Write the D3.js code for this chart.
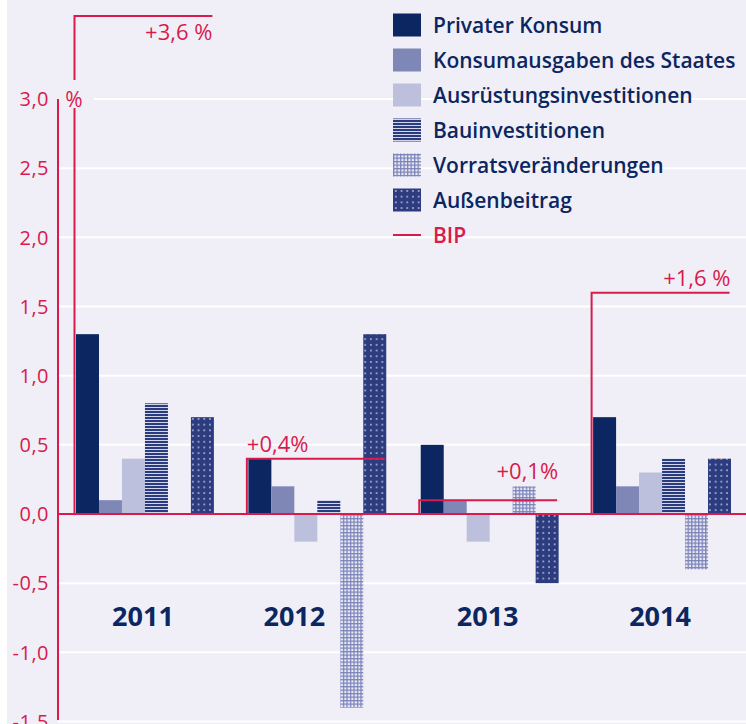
<!DOCTYPE html>
<html>
<head>
<meta charset="utf-8">
<script src="https://cdn.jsdelivr.net/npm/d3@7"></script>
<style>
  body { margin: 0; background: #fff; }
  svg text { font-family: "Open Sans", sans-serif; }
</style>
</head>
<body>
<div id="chart"></div>
<script>
// Chart size
var width = 746;
var height = 724;

// Data
var years = ["2011", "2012", "2013", "2014"];
var seriesNames = ["Privater Konsum", "Konsumausgaben des Staates", "Ausrüstungsinvestitionen",
  "Bauinvestitionen", "Vorratsveränderungen", "Außenbeitrag"];
var privaterKonsum = [1.3, 0.4, 0.5, 0.7];
var konsumStaat = [0.1, 0.2, 0.1, 0.2];
var ausruestung = [0.4, -0.2, -0.2, 0.3];
var bau = [0.8, 0.1, 0.0, 0.4];
var vorrat = [0.0, -1.4, 0.2, -0.4];
var aussen = [0.7, 1.3, -0.5, 0.4];
var bip = [3.6, 0.4, 0.1, 1.6];
var bipLabels = ["+3,6 %", "+0,4%", "+0,1%", "+1,6 %"];
var yTicks = [3.0, 2.5, 2.0, 1.5, 1.0, 0.5, 0.0, -0.5, -1.0, -1.5];

var seriesValues = [privaterKonsum, konsumStaat, ausruestung, bau, vorrat, aussen];

var red = "#d81b4c";
var navy = "#0b2660";
var bg = "#f0eff7";

var svg = d3.select("#chart").append("svg")
    .attr("width", width)
    .attr("height", height);

// background with the thin white strip on the left
svg.append("rect").attr("width", width).attr("height", height).attr("fill", "#fff");
svg.append("rect").attr("x", 7).attr("width", width - 7).attr("height", height).attr("fill", bg);

// patterns for the textured series
var defs = svg.append("defs");

var pStripes = defs.append("pattern").attr("id", "stripes")
    .attr("patternUnits", "userSpaceOnUse").attr("width", 6).attr("height", 3);
pStripes.append("rect").attr("width", 6).attr("height", 3).attr("fill", "#d3d6ea");
pStripes.append("rect").attr("width", 6).attr("height", 2).attr("fill", "#2b3c7e");

var pGrid = defs.append("pattern").attr("id", "grid")
    .attr("patternUnits", "userSpaceOnUse").attr("width", 3.5).attr("height", 3.5);
pGrid.append("rect").attr("width", 3.5).attr("height", 3.5).attr("fill", "#7d84ba");
pGrid.append("rect").attr("x", 1.3).attr("y", 1.3).attr("width", 2.2).attr("height", 2.2).attr("fill", "#ecedf6");

var pDots = defs.append("pattern").attr("id", "dots")
    .attr("patternUnits", "userSpaceOnUse").attr("width", 5.7).attr("height", 5.7);
pDots.append("rect").attr("width", 5.7).attr("height", 5.7).attr("fill", "#2c3c7f");
pDots.append("rect").attr("x", 2).attr("y", 2).attr("width", 1.7).attr("height", 1.7).attr("fill", "#aab2d6");

var fills = [navy, "#7f87b6", "#bcc0dc", "url(#stripes)", "url(#grid)", "url(#dots)"];

// scales
var y = d3.scaleLinear().domain([-1.5, 3.0]).range([721.5, 99]);

var x0 = d3.scaleBand().domain(years).range([76, 731]).paddingInner(0.2).paddingOuter(0);
var x1 = d3.scaleBand().domain(d3.range(seriesNames.length)).range([0, x0.bandwidth()]).padding(0);

// grid lines
svg.append("g").selectAll("line")
  .data(yTicks.filter(function(d) { return d !== 0; }))
  .enter().append("line")
    .attr("x1", function(d) { return d === 3.0 ? 94 : 58; })
    .attr("x2", width)
    .attr("y1", function(d) { return y(d); })
    .attr("y2", function(d) { return y(d); })
    .attr("stroke", "#fff")
    .attr("stroke-width", 2);

// tick labels
svg.append("g").selectAll("text")
  .data(yTicks)
  .enter().append("text")
    .attr("x", 49)
    .attr("y", function(d) { return y(d); })
    .attr("dy", "0.36em")
    .attr("text-anchor", "end")
    .attr("fill", red)
    .style("font-size", "20px")
    .style("font-weight", 500)
    .style("letter-spacing", "0.5px")
    .text(function(d) { return d3.format(".1f")(d).replace(".", ",").replace("−", "-"); });

// y axis line
svg.append("line")
    .attr("x1", 58).attr("x2", 58)
    .attr("y1", y(3.0)).attr("y2", 720)
    .attr("stroke", red).attr("stroke-width", 2);

// bars
var groups = svg.append("g").selectAll("g")
  .data(years)
  .enter().append("g")
    .attr("transform", function(d) { return "translate(" + x0(d) + ",0)"; });

groups.selectAll("rect")
  .data(function(d, i) {
    return seriesValues.map(function(vals, s) { return { s: s, v: vals[i] }; });
  })
  .enter().append("rect")
    .attr("x", function(d) { return x1(d.s); })
    .attr("width", x1.bandwidth())
    .attr("y", function(d) { return y(Math.max(0, d.v)); })
    .attr("height", function(d) { return Math.abs(y(d.v) - y(0)); })
    .attr("fill", function(d) { return fills[d.s]; });

// zero line
svg.append("line")
    .attr("x1", 58).attr("x2", width)
    .attr("y1", y(0)).attr("y2", y(0))
    .attr("stroke", red).attr("stroke-width", 2);

// BIP brackets
var bipG = svg.append("g");
years.forEach(function(yr, i) {
  var xs = x0(yr) - 1.5;
  var xe = x0(yr) + x0.bandwidth() - 1.5;
  bipG.append("path")
    .attr("d", "M" + xs + "," + y(0) + "V" + y(bip[i]) + "H" + xe)
    .attr("fill", "none")
    .attr("stroke", red)
    .attr("stroke-width", 2);
  var t = bipG.append("text")
    .attr("fill", red)
    .style("font-size", "22px")
    .style("font-weight", 500)
    .text(bipLabels[i]);
  if (i === 0) {
    t.attr("x", xe).attr("y", y(bip[i]) + 24).attr("text-anchor", "end");
    return;
  }
  var anchor = i === 1 ? "start" : "end";
  var lx = i === 1 ? xs : xe + 1;
  t.attr("x", lx).attr("text-anchor", anchor);
  // keep the label above any bar it would sit on
  var box = t.node().getBBox();
  var top = y(bip[i]);
  seriesValues.forEach(function(vals, s) {
    var bx = x0(yr) + x1(s);
    if (bx + x1.bandwidth() > box.x && bx < box.x + box.width) {
      top = Math.min(top, y(Math.max(0, vals[i])));
    }
  });
  t.attr("y", top - 7);
});

// "%" unit label, cutting the 2011 bracket
svg.append("rect")
    .attr("x", 62).attr("y", 80).attr("width", 30).attr("height", 28)
    .attr("fill", bg);
svg.append("text")
    .attr("x", 74).attr("y", y(3.0)).attr("dy", "0.36em")
    .attr("text-anchor", "middle")
    .attr("fill", red)
    .style("font-size", "21px")
    .style("font-weight", 500)
    .text("%");

// year labels
svg.append("g").selectAll("text")
  .data(years)
  .enter().append("text")
    .attr("x", function(d, i) {
      // 2012 label sits left of the deep Vorrat bar
      return i === 1 ? x0(d) + x1(4) / 2 : x0(d) + x0.bandwidth() / 2 - 2;
    })
    .attr("y", 626)
    .attr("text-anchor", "middle")
    .attr("fill", navy)
    .style("font-size", "27px")
    .style("font-weight", 700)
    .text(function(d) { return d; });

// legend
var legend = svg.append("g").attr("transform", "translate(393,0)");
seriesNames.forEach(function(name, i) {
  var cy = 25 + i * 35;
  legend.append("rect")
    .attr("x", 0).attr("y", cy - 11.5)
    .attr("width", 28).attr("height", 23)
    .attr("fill", fills[i]);
  legend.append("text")
    .attr("x", 40).attr("y", cy).attr("dy", "0.36em")
    .attr("fill", navy)
    .style("font-size", "21px")
    .style("font-weight", 600)
    .text(name);
});
var bipY = 25 + 6 * 35;
legend.append("line")
    .attr("x1", 0).attr("x2", 28)
    .attr("y1", bipY).attr("y2", bipY)
    .attr("stroke", red).attr("stroke-width", 2);
legend.append("text")
    .attr("x", 40).attr("y", bipY).attr("dy", "0.36em")
    .attr("fill", red)
    .style("font-size", "21px")
    .style("font-weight", 600)
    .text("BIP");
</script>
</body>
</html>
